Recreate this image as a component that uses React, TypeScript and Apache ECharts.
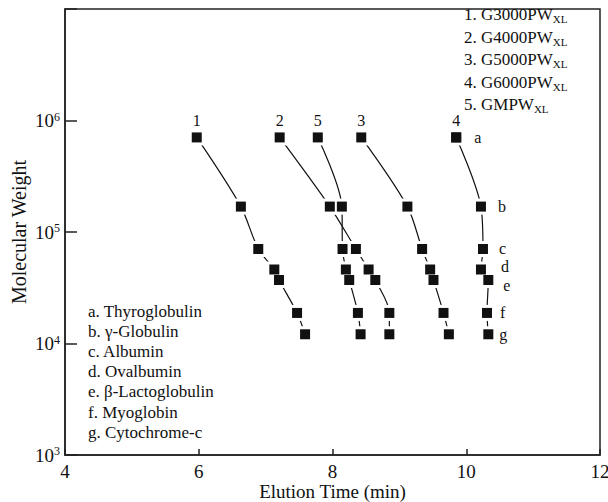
import React, { useEffect, useRef } from "react";
import * as echarts from "echarts";

const FONT = "'Liberation Serif', 'Times New Roman', serif";
const INK = "#111";

// Proteins (row letters) and their molecular weights
const letters = ["a", "b", "c", "d", "e", "f", "g"];
const proteins = ["Thyroglobulin", "γ-Globulin", "Albumin", "Ovalbumin", "β-Lactoglobulin", "Myoglobin", "Cytochrome-c"];
const molecularWeight = [705000, 169000, 70400, 46100, 37100, 18800, 12100];

// Columns
const columnNumbers = ["1", "2", "3", "4", "5"];
const columnNames = ["G3000PW", "G4000PW", "G5000PW", "G6000PW", "GMPW"];
const columnSuffix = "XL";

// Elution times (min) per column, rows a..g
const col1Time = [5.97, 6.63, 6.89, 7.13, 7.2, 7.47, 7.59];
const col2Time = [7.21, 7.96, 8.35, 8.54, 8.64, 8.85, 8.85];
const col3Time = [8.43, 9.12, 9.34, 9.46, 9.51, 9.66, 9.74];
const col4Time = [9.85, 10.22, 10.25, 10.22, 10.33, 10.31, 10.33];
const col5Time = [7.78, 8.14, 8.15, 8.2, 8.25, 8.38, 8.42];
const columnTimes = [col1Time, col2Time, col3Time, col4Time, col5Time];

// Axis ticks
const xTicks = { min: 4, max: 12, interval: 2 };
const yRange = { min: 1e3, max: 1e7 };

// letter label nudges for column 4 (text placement only)
const letterOffsets = [[8, 0], [7, 0], [6, 0], [10, -3], [5, 5], [3, 0], [1, 0]];

export default function App() {
  const ref = useRef<HTMLDivElement>(null);
  useEffect(() => {
    if (!ref.current) return;
    const chart = echarts.init(ref.current, null, { renderer: "svg" });

    const lineSeries = columnTimes.map((times, ci) => ({
      type: "line",
      name: columnNames[ci],
      data: times.map((t, i) => [t, molecularWeight[i]]),
      smooth: 0.3,
      showSymbol: false,
      symbol: "none",
      silent: true,
      z: 2,
      lineStyle: { color: INK, width: 1.2 },
    }));

    const allPoints: number[][] = [];
    columnTimes.forEach((times) => times.forEach((t, i) => allPoints.push([t, molecularWeight[i]])));

    const whiteSeries = {
      type: "scatter",
      data: allPoints,
      symbol: "rect",
      symbolSize: 16,
      itemStyle: { color: "#fff", opacity: 1 },
      silent: true,
      z: 3,
    };

    const letterLabel = (i: number) => ({
      show: true,
      position: "right",
      distance: 5,
      formatter: letters[i],
      offset: letterOffsets[i],
      fontFamily: FONT,
      fontSize: 16,
      color: INK,
    });

    const blackSeries = columnTimes.map((times, ci) => ({
      type: "scatter",
      data: times.map((t, i) => {
        const item: any = { value: [t, molecularWeight[i]] };
        if (i === 0) {
          item.label = {
            show: true,
            position: "top",
            distance: 4,
            formatter: columnNumbers[ci],
            fontFamily: FONT,
            fontSize: 16,
            color: INK,
          };
        } else if (ci === 3) {
          item.label = letterLabel(i);
        }
        return item;
      }),
      symbol: "rect",
      symbolSize: 10,
      itemStyle: { color: INK, opacity: 1 },
      silent: true,
      z: 4,
    }));

    // column 4's first point carries both its number and the letter "a"
    const aLabelSeries = {
      type: "scatter",
      data: [{ value: [col4Time[0], molecularWeight[0]], label: letterLabel(0) }],
      symbol: "rect",
      symbolSize: 10,
      itemStyle: { color: INK, opacity: 1 },
      silent: true,
      z: 4,
    };

    const graphics: any[] = [];
    columnNames.forEach((name, i) => {
      graphics.push({
        type: "text",
        left: 464,
        top: 6 + i * 22.5,
        silent: true,
        style: {
          text: `{m|${columnNumbers[i]}. ${name}}{s|${columnSuffix}}`,
          fill: INK,
          rich: {
            m: { fontFamily: FONT, fontSize: 17, lineHeight: 20, fill: INK },
            s: { fontFamily: FONT, fontSize: 11, lineHeight: 11, fill: INK, verticalAlign: "bottom" },
          },
        },
      });
    });
    proteins.forEach((p, i) => {
      graphics.push({
        type: "text",
        left: 88,
        top: 303 + i * 20.1,
        silent: true,
        style: {
          text: `${letters[i]}. ${p}`,
          fill: INK,
          font: `17px ${FONT}`,
        },
      });
    });

    chart.setOption({
      animation: false,
      grid: {
        left: 65, right: 8, top: 9, bottom: 47,
        containLabel: false,
        outerBoundsMode: "none",
        show: true, borderColor: "#222", borderWidth: 1.5, backgroundColor: "transparent",
      },
      xAxis: {
        type: "value",
        min: xTicks.min,
        max: xTicks.max,
        interval: xTicks.interval,
        name: "Elution Time (min)",
        nameLocation: "middle",
        nameGap: 27,
        nameMoveOverlap: false,
        nameTextStyle: { fontFamily: FONT, fontSize: 19, color: INK },
        axisLine: { show: true, onZero: false, lineStyle: { color: "#222", width: 1.5 } },
        axisTick: { show: true, inside: true, length: 6, lineStyle: { color: "#222", width: 1.5 } },
        axisLabel: { margin: 7, fontFamily: FONT, fontSize: 19, color: INK },
        splitLine: { show: false },
      },
      yAxis: {
        type: "log",
        logBase: 10,
        min: yRange.min,
        max: yRange.max,
        name: "Molecular Weight",
        nameLocation: "middle",
        nameGap: 36,
        nameMoveOverlap: false,
        nameRotate: 90,
        nameTextStyle: { fontFamily: FONT, fontSize: 20, color: INK },
        axisLine: { show: true, lineStyle: { color: "#222", width: 1.5 } },
        axisTick: { show: true, inside: true, length: 12, lineStyle: { color: "#222", width: 1.5 } },
        axisLabel: {
          margin: 5,
          formatter: (v: number) => {
            const e = Math.round(Math.log10(v));
            if (e >= 7) return "";
            return `{b|10}{s|${e}}`;
          },
          rich: {
            b: { fontFamily: FONT, fontSize: 19, lineHeight: 20, color: INK },
            s: { fontFamily: FONT, fontSize: 12, lineHeight: 12, color: INK, verticalAlign: "top" },
          },
        },
        splitLine: { show: false },
      },
      graphic: graphics,
      series: [...lineSeries, whiteSeries, ...blackSeries, aLabelSeries],
    });
    return () => chart.dispose();
  }, []);
  return <div ref={ref} style={{ position: "fixed", left: 0, top: 0, width: 608, height: 502, background: "#fff" }} />;
}
